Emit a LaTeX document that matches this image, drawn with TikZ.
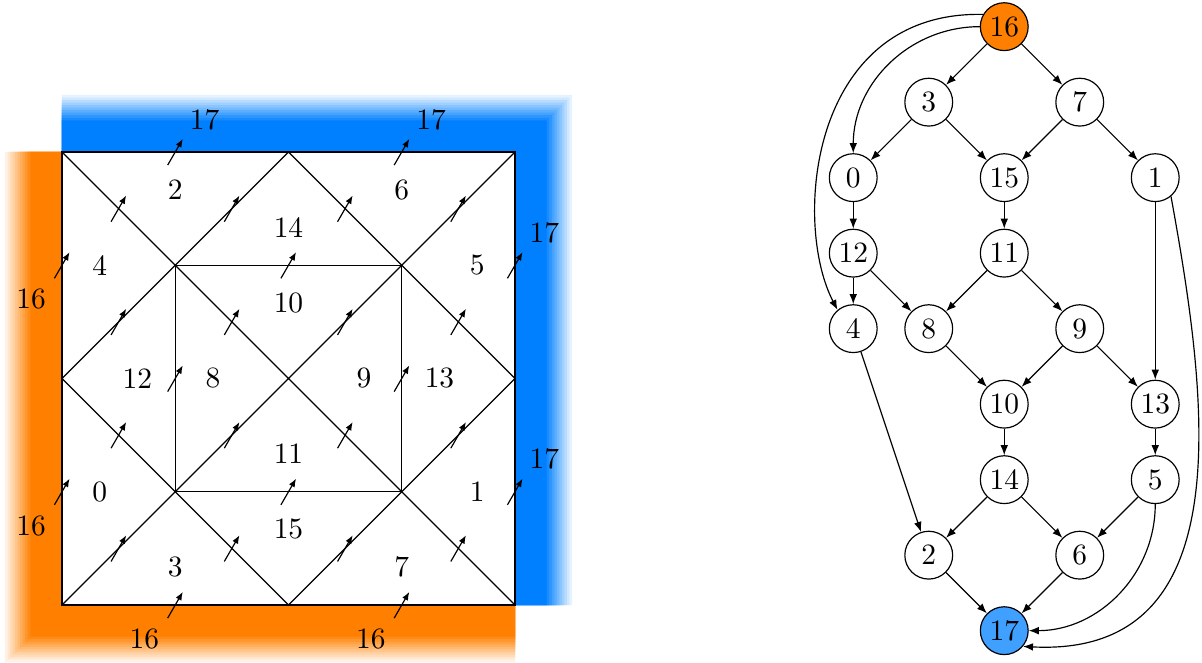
\documentclass[tikz,border=0pt]{standalone}
\usepackage{tikz}
\usetikzlibrary{arrows.meta,calc}
\definecolor{bndorange}{RGB}{255,128,0}
\definecolor{bndblue}{RGB}{0,128,255}
\definecolor{nodeblue}{RGB}{64,160,255}

\begin{document}
\begin{tikzpicture}[x=0.9cm, y=0.9cm,
  vtx/.style={circle, draw, minimum size=0.57cm, inner sep=0pt},
  dep/.style={-{Latex[length=3.4pt,width=2.6pt]}},
  flux/.style={-{Latex[length=2.8pt,width=2.2pt]}}]
\useasboundingbox (-0.821,-0.755) rectangle (15.099,8.013);
% Boundary bands, faded towards the outside
\foreach \i in {10,9,...,0} {
    \pgfmathsetmacro{\w}{0.42+0.0335*\i}
    \pgfmathtruncatemacro{\c}{100-9*\i}
    \fill[bndorange!\c] (0,6) -- (0,0) -- (6,0) -- (6,-\w) -- (-\w,-\w) -- (-\w,6) -- cycle;
    \fill[bndblue!\c] (0,6) -- (6,6) -- (6,0) -- (6+\w,0) -- (6+\w,6+\w) -- (0,6+\w) -- cycle;
}
% Mesh
\fill[white] (0,0) rectangle (6,6);
\draw (0,0) -- (6,6) (0,6) -- (6,0);
\draw (3,0) -- (6,3) -- (3,6) -- (0,3) -- cycle;
\draw (1.5,1.5) rectangle (4.5,4.5);
\draw[thick] (0,0) rectangle (6,6);
% Flux arrows at edge midpoints
\foreach \x in {0.75,2.25,3.75,5.25} {
    \foreach \y in {0.75,2.25,3.75,5.25} {
        \draw[flux] (\x,\y) ++(240:0.2) -- ++(60:0.4);
    }
}
\foreach \x/\y in {1.5/0,4.5/0,0/1.5,0/4.5,6/1.5,6/4.5,1.5/6,4.5/6,3/1.5,3/4.5,1.5/3,4.5/3}
    \draw[flux] (\x,\y) ++(240:0.2) -- ++(60:0.4);
% Cell numbers
\foreach \x/\y/\n in {0.5/1.5/0, 5.5/1.5/1, 1.5/5.5/2, 1.5/0.5/3, 0.5/4.5/4, 5.5/4.5/5,
                      4.5/5.5/6, 4.5/0.5/7, 2/3/8, 4/3/9, 3/4/10, 3/2/11, 1/3/12,
                      5/3/13, 3/5/14, 3/1/15}
    \node (c\n) at (\x,\y) {\n};
% Outer neighbours
\foreach \x/\y [count=\k] in {1.5/0, 4.5/0, 0/1.5, 0/4.5}
    \node (lo\k) at (\x-0.41,\y-0.45) {16};
\foreach \x/\y [count=\k] in {1.5/6, 4.5/6, 6/1.5, 6/4.5}
    \node (hi\k) at (\x+0.39,\y+0.43) {17};
% Dependency graph
\begin{scope}[shift={(10.48,-0.34)}]
\node[vtx, fill=bndorange] (n16) at (2,8) {16};
\node[vtx] (n3) at (1,7) {3};
\node[vtx] (n7) at (3,7) {7};
\node[vtx] (n0) at (0,6) {0};
\node[vtx] (n15) at (2,6) {15};
\node[vtx] (n1) at (4,6) {1};
\node[vtx] (n12) at (0,5) {12};
\node[vtx] (n11) at (2,5) {11};
\node[vtx] (n4) at (0,4) {4};
\node[vtx] (n8) at (1,4) {8};
\node[vtx] (n9) at (3,4) {9};
\node[vtx] (n10) at (2,3) {10};
\node[vtx] (n13) at (4,3) {13};
\node[vtx] (n14) at (2,2) {14};
\node[vtx] (n5) at (4,2) {5};
\node[vtx] (n2) at (1,1) {2};
\node[vtx] (n6) at (3,1) {6};
\node[vtx, fill=nodeblue] (n17) at (2,0) {17};
\foreach \a/\b in {16/3, 16/7, 3/0, 3/15, 7/15, 7/1, 0/12, 15/11, 12/4, 12/8, 11/8, 11/9,
                   1/13, 8/10, 9/10, 9/13, 4/2, 10/14, 13/5, 14/2, 14/6, 5/6, 2/17, 6/17}
    \draw[dep] (n\a) -- (n\b);
\draw[dep] (n16) to[out=180, in=90] (n0);
\draw[dep] (n16.150) .. controls +(-2.3,0.05) and +(-0.6,1.15) .. (n4.130);
\draw[dep] (n5) to[out=-90, in=0] (n17);
\draw[dep] (n1.-50) .. controls +(0.49,-2.69) and +(2.91,-0.15) .. (n17.-40);
\end{scope}
\end{tikzpicture}
\end{document}
